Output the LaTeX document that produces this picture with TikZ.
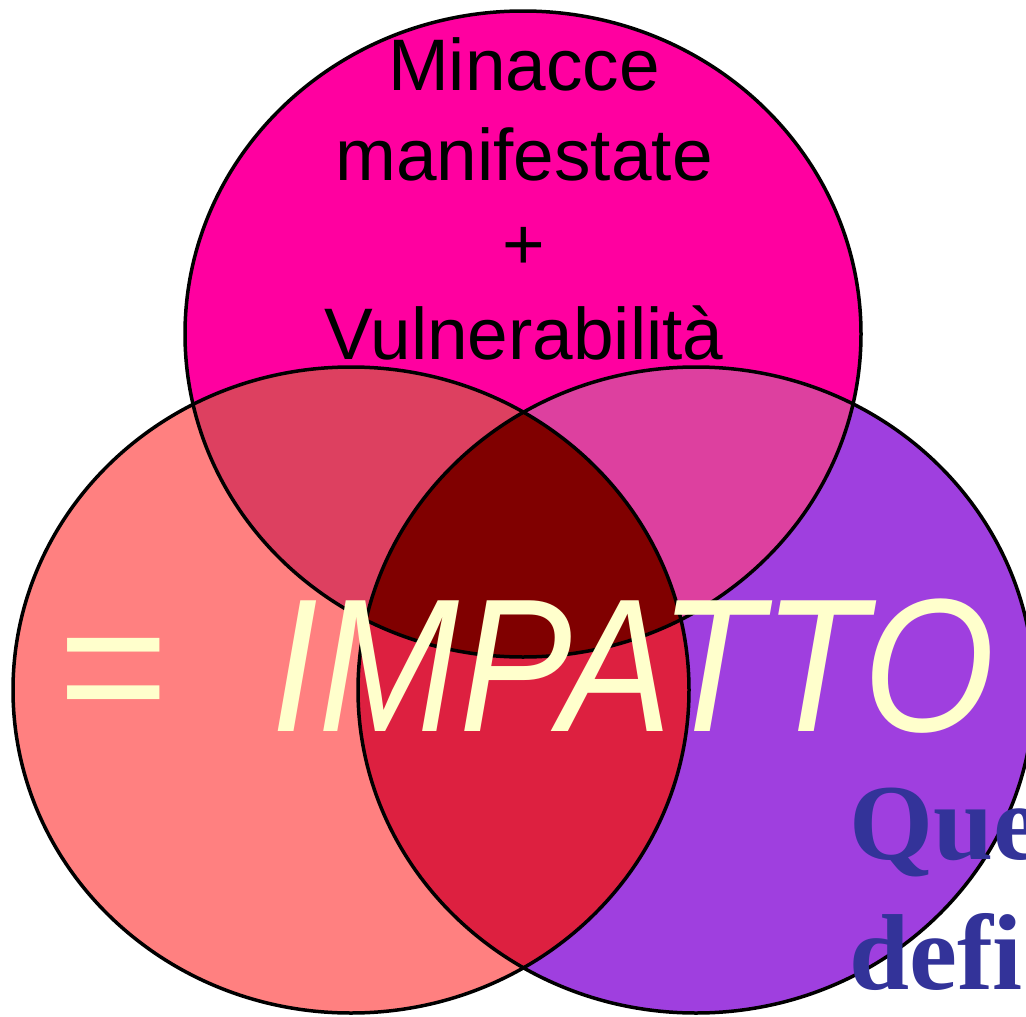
\documentclass[tikz,border=0pt]{standalone}
\usepackage{graphicx}
\usepackage{fontspec}
\setmainfont{Liberation Sans}
\newfontfamily\boldserif{Liberation Serif}
\definecolor{leftfill}{HTML}{FF8080}
\definecolor{rightfill}{HTML}{9F3FDF}
\definecolor{topfill}{HTML}{FF00A0}
\definecolor{tlfill}{HTML}{DD4060}
\definecolor{trfill}{HTML}{DD409F}
\definecolor{lrfill}{HTML}{DD2040}
\definecolor{midfill}{HTML}{800000}
\definecolor{cream}{HTML}{FFFFCC}
\definecolor{navy}{HTML}{333399}
\begin{document}
\begin{tikzpicture}[x=1pt,y=-1pt,
  ring/.style={draw=black,line width=3.5pt},
  label/.style={inner sep=0pt,outer sep=0pt}]
\useasboundingbox (0,0) rectangle (1026,1017);
\clip (0,0) rectangle (1026,1017);
\def\rx{338}\def\ry{323}
\coordinate (ctop) at (523,334);
\coordinate (cleft) at (351,690);
\coordinate (cright) at (696,690);
% plain fills
\fill[leftfill] (cleft) ellipse [x radius=\rx, y radius=\ry];
\fill[rightfill] (cright) ellipse [x radius=\rx, y radius=\ry];
\fill[topfill] (ctop) ellipse [x radius=\rx, y radius=\ry];
% pairwise overlaps with the top set
\begin{scope}
  \clip (ctop) ellipse [x radius=\rx, y radius=\ry];
  \fill[tlfill] (cleft) ellipse [x radius=\rx, y radius=\ry];
  \fill[trfill] (cright) ellipse [x radius=\rx, y radius=\ry];
\end{scope}
% left-right overlap and the common core
\begin{scope}
  \clip (cleft) ellipse [x radius=\rx, y radius=\ry];
  \fill[lrfill] (cright) ellipse [x radius=\rx, y radius=\ry];
  \clip (ctop) ellipse [x radius=\rx, y radius=\ry];
  \fill[midfill] (cright) ellipse [x radius=\rx, y radius=\ry];
\end{scope}
% outlines
\draw[ring] (cleft) ellipse [x radius=\rx, y radius=\ry];
\draw[ring] (cright) ellipse [x radius=\rx, y radius=\ry];
\draw[ring] (ctop) ellipse [x radius=\rx, y radius=\ry];
% texts
\node[label,anchor=north,align=center,font=\fontsize{73}{89.5}\selectfont]
  (threat) at (524,38) {Minacce\\manifestate\\+\\Vulnerabilità};
\node[label,anchor=base west,text=cream,font=\fontsize{190}{200}\selectfont\itshape]
  (impact) at (55,731) {=~~\scalebox{0.89}[1]{IMPATTO}};
\node[label,anchor=north west,align=left,text=navy,
  font=\fontsize{108}{130}\selectfont\boldserif\bfseries]
  (note) at (849,788) {Que\\defi};
\end{tikzpicture}
\end{document}
